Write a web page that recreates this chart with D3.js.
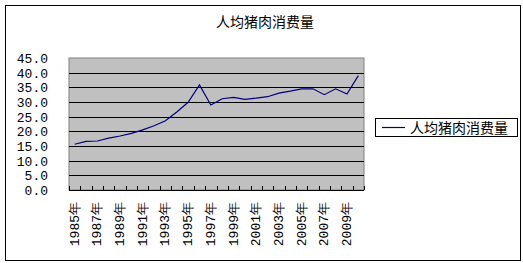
<!DOCTYPE html>
<html><head><meta charset="utf-8">
<script src="https://cdn.jsdelivr.net/npm/d3@7"></script>
<style>body{margin:0;background:#fff}svg{display:block}</style>
</head><body>
<script>
const title = "人均猪肉消费量";
const seriesName = "人均猪肉消费量";
const years = d3.range(1985, 2011).map(String);
const values = [15.6,16.6,16.7,17.7,18.4,19.3,20.5,21.9,23.6,26.6,29.9,35.8,29.0,31.1,31.6,30.9,31.3,31.8,33.0,33.7,34.5,34.5,32.5,34.5,32.7,39.0];
const yTicks = [0,5,10,15,20,25,30,35,40,45];

const W = 523, H = 263;
const svg = d3.select("body").append("svg").attr("width", W).attr("height", H);
svg.append("rect").attr("x", 5.5).attr("y", 5.5).attr("width", 515).attr("height", 255)
  .attr("fill", "#fff").attr("stroke", "#000").attr("stroke-width", 1);

const L = 69, R = 364, T = 58, B = 190;
const x = d3.scaleBand().domain(years).range([L, R]);
const y = d3.scaleLinear().domain([0, 45]).range([B, T]);

svg.append("text").attr("x", 265).attr("y", 27).attr("text-anchor", "middle")
  .attr("font-family", "Noto Sans CJK SC").attr("font-size", 14).attr("fill", "#000").text(title);

svg.append("rect").attr("x", L).attr("y", T).attr("width", R - L).attr("height", B - T)
  .attr("fill", "#c0c0c0").attr("stroke", "#808080");

// gridlines
svg.append("g").selectAll("line").data(yTicks.filter(d => d > 0 && d < 45)).join("line")
  .attr("x1", L).attr("x2", R).attr("y1", d => Math.round(y(d)) + 0.5).attr("y2", d => Math.round(y(d)) + 0.5)
  .attr("stroke", "#000");

// y axis labels
const yAxis = d3.axisLeft(y).tickValues(yTicks).tickSize(0).tickPadding(0)
  .tickFormat(d3.format(".1f"));
const gy = svg.append("g").attr("transform", `translate(48,0)`).call(yAxis);
gy.select(".domain").remove();
gy.selectAll("text").attr("font-family", "Liberation Mono").attr("font-size", 13).attr("fill", "#000")
  .attr("dy", "0.35em");

// x axis: ticks at band boundaries, pointing up
svg.append("line").attr("x1", L).attr("x2", R).attr("y1", B + 0.5).attr("y2", B + 0.5).attr("stroke", "#000");
const bounds = years.map(d => x(d)).concat([R]);
svg.append("g").selectAll("line").data(bounds).join("line")
  .attr("x1", d => Math.round(d) + 0.5).attr("x2", d => Math.round(d) + 0.5)
  .attr("y1", B).attr("y2", B - 4).attr("stroke", "#000");

// x labels every other year, rotated
svg.append("g").selectAll("text").data(years.filter((d, i) => i % 2 === 0)).join("text")
  .attr("transform", d => `translate(${x(d) + x.bandwidth() / 2 + 4},${B + 12}) rotate(-90)`)
  .attr("text-anchor", "end").attr("font-family", "Liberation Mono").attr("font-size", 13).attr("fill", "#000")
  .text(d => d + "年");

// line
const line = d3.line().x((d, i) => x(years[i]) + x.bandwidth() / 2).y(d => y(d));
svg.append("path").datum(values).attr("d", line).attr("fill", "none")
  .attr("stroke", "#000080").attr("stroke-width", 1.2);

// legend
svg.append("rect").attr("x", 375.5).attr("y", 118.5).attr("width", 142).attr("height", 18)
  .attr("fill", "#fff").attr("stroke", "#000");
svg.append("line").attr("x1", 382).attr("x2", 405).attr("y1", 127.5).attr("y2", 127.5).attr("stroke", "#000080").attr("stroke-width", 1.2);
svg.append("text").attr("x", 410).attr("y", 133).attr("font-family", "Noto Sans CJK SC").attr("font-size", 14)
  .attr("fill", "#000").text(seriesName);
</script>
</body></html>
